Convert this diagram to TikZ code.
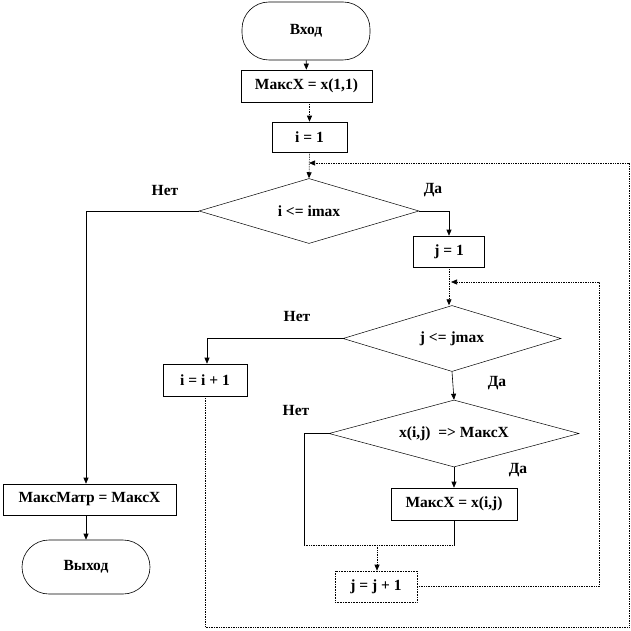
\documentclass[tikz,border=0pt]{standalone}
\usepackage{fontspec}
\setmainfont{Liberation Serif}
\usetikzlibrary{shapes.geometric,arrows.meta}
\begin{document}
\begin{tikzpicture}[x=1pt,y=-1pt,
  font=\bfseries\fontsize{15.5}{17}\selectfont,
  box/.style={draw, rectangle, inner sep=0pt, line width=0.6pt},
  term/.style={draw, rectangle, inner sep=0pt, line width=0.6pt, rounded corners=27pt},
  dec/.style={draw, diamond, aspect=3.4, inner sep=0pt, line width=0.5pt},
  lbl/.style={inner sep=0pt},
  arr/.style={-{Triangle[width=5pt,length=6pt]}},
  dots/.style={densely dotted, line width=0.7pt},
  line width=0.6pt]
\useasboundingbox (0,0) rectangle (630,631);

% nodes
\node[term, minimum width=128pt, minimum height=58pt] (start) at (306,31) {Вход};
\node[box, minimum width=131pt, minimum height=32pt] (m0) at (306.5,86) {МаксX = x(1,1)};
\node[box, minimum width=75pt, minimum height=30pt] (i1) at (309.5,137) {i = 1\hspace{22pt}};
\node[dec, minimum width=220pt, minimum height=65pt] (d1) at (309,211) {i <= imax};
\node[box, minimum width=71pt, minimum height=31pt] (j1) at (449,251.5) {j = 1\hspace{20pt}};
\node[dec, minimum width=218pt, minimum height=66pt] (d2) at (452,338.5) {j <= jmax};
\node[box, minimum width=84pt, minimum height=32pt] (ip1) at (205,380) {i = i + 1\hspace{10pt}};
\node[dec, minimum width=250pt, minimum height=67pt] (d3) at (454,433.5) {x(i,j)\ \ => МаксX};
\node[box, minimum width=126pt, minimum height=32pt] (mx) at (454,504) {МаксX = x(i,j)};
\node[box, densely dotted, minimum width=82pt, minimum height=31pt] (jp1) at (376,586.5) {j = j + 1\hspace{8pt}};
\node[box, minimum width=173pt, minimum height=31pt] (mm) at (89.5,499.5) {МаксМатр = МаксX\hspace{8pt}};
\node[term, minimum width=128pt, minimum height=54pt] (exit) at (86,567) {Выход};

% labels
\node[lbl] (n1) at (165,190) {Нет};
\node[lbl] (y1) at (433,190) {Да};
\node[lbl] (n2) at (297,316) {Нет};
\node[lbl] (y2) at (497,383) {Да};
\node[lbl] (n3) at (296,410) {Нет};
\node[lbl] (y3) at (518,470) {Да};

% helper coordinates
\coordinate (L1) at (309,163);
\coordinate (L2) at (451,282);
\coordinate (c3) at (304,545);
\coordinate (J) at (377,545);
\coordinate (mxb) at (454,545);

% connectors
\draw[arr] (start) -- (m0);
\draw[dots,arr] (m0.south -| i1.north) -- (i1.north);
\draw[dots,arr] (i1.south) -- (d1.north);
\draw[arr] (d1.west) -| ([xshift=-3.5pt]mm.north);
\draw[arr] ([xshift=-3.5pt]mm.south) -- (exit.north);
\draw[arr] (d1.east) -| (j1.north);
\draw[dots,arr] (j1.south) -- (j1.south |- d2.north);
\draw[arr] (d2.west) -| ([xshift=2pt]ip1.north);
\draw[arr] (d2.south) -- (d3.north);
\draw[arr] (d3.south) -- (mx.north);
\draw (d3.west) -| (c3);
\draw[dots] (c3) -- (J) -- (mxb);
\draw (mx.south) -- (mxb);
\draw[dots,arr] (J) -- (J |- jp1.north);
\draw[dots,arr] (jp1.east) -| (599,282) -- (L2);
\draw[dots,arr] (ip1.south) -- (ip1.south |- 0,627) -| (629,163) -- (L1);
\end{tikzpicture}
\end{document}
